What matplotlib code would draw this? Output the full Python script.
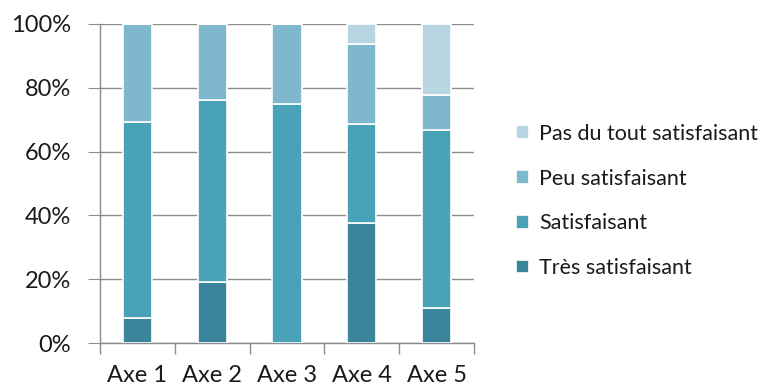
import matplotlib
matplotlib.use("Agg")
import matplotlib.pyplot as plt
import numpy as np
from matplotlib.ticker import FuncFormatter

categories = ["Axe 1", "Axe 2", "Axe 3", "Axe 4", "Axe 5"]
series_names = ["Très satisfaisant", "Satisfaisant", "Peu satisfaisant", "Pas du tout satisfaisant"]
tres = [7.7, 19.0, 0.0, 37.5, 11.1]
satisf = [61.5, 57.2, 75.0, 31.25, 55.6]
peu = [30.8, 23.8, 25.0, 25.0, 11.1]
pas = [0.0, 0.0, 0.0, 6.25, 22.2]
colors = ["#3A8599", "#4AA2B9", "#7FB8CD", "#B8D6E1"]

plt.rcParams['font.family'] = ['Lato', 'DejaVu Sans']

fig = plt.figure(figsize=(7.62, 3.86), dpi=100)
ax = fig.add_axes([100/762, 1-343/386, 374/762, 319/386])

x = np.arange(len(categories))
bottom = np.zeros(len(categories))
handles = []
for vals, name, c in zip([tres, satisf, peu, pas], series_names, colors):
    v = np.array(vals)
    b = ax.bar(x, v, 0.39, bottom=bottom, color=c, edgecolor="white", linewidth=1.2, label=name, zorder=3)
    handles.append(b)
    bottom += v

ax.set_ylim(0, 100)
ax.set_xlim(-0.5, len(categories) - 0.5)
ax.set_yticks(np.arange(0, 101, 20))
ax.yaxis.set_major_formatter(FuncFormatter(lambda v, p: f"{int(v)}%"))
ax.yaxis.grid(True, color="#8C8C8C", linewidth=1.0, zorder=0)
ax.tick_params(axis="y", length=9, color="#8C8C8C", labelsize=17, labelcolor="#1a1a1a", pad=12)

ax.set_xticks(x)
ax.set_xticklabels(categories)
ax.set_xticks(np.arange(-0.5, len(categories), 1), minor=True)
ax.tick_params(axis="x", which="major", length=0, labelsize=17, labelcolor="#1a1a1a", pad=16)
ax.tick_params(axis="x", which="minor", length=8, color="#8C8C8C", width=1.0)

for s in ["top", "right"]:
    ax.spines[s].set_visible(False)
for s in ["left", "bottom"]:
    ax.spines[s].set_color("#8C8C8C")
    ax.spines[s].set_linewidth(1.0)

leg = fig.legend(handles[::-1], series_names[::-1], loc="center left",
                 bbox_to_anchor=(497/762, 1-201/386), frameon=False,
                 fontsize=15.5, handlelength=0.6, handleheight=0.6,
                 handletextpad=0.45, labelspacing=1.15, labelcolor="#1a1a1a")

fig.savefig("out.png", dpi=100)
